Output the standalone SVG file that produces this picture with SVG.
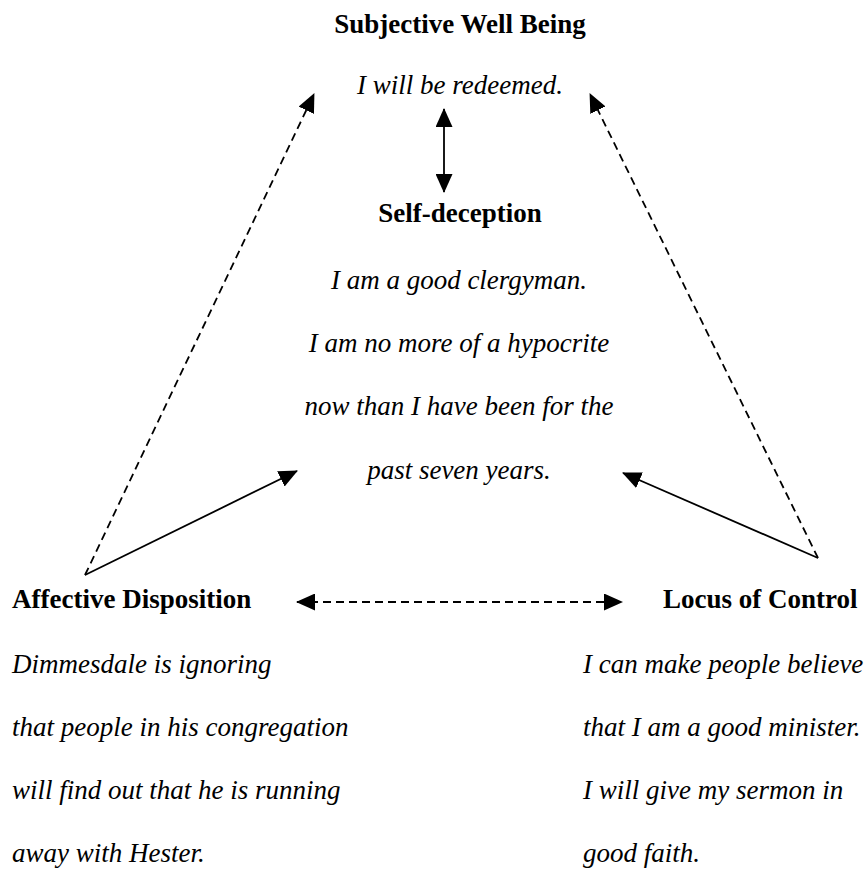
<svg xmlns="http://www.w3.org/2000/svg" width="866" height="873" viewBox="0 0 866 873">
<style>
text{font-family:"Liberation Serif","Times New Roman",serif;font-size:27px;fill:#000}
.b{font-weight:bold}
.i{font-style:italic}
.c{text-anchor:middle}
.ln{stroke:#000;stroke-width:1.8;fill:none}
.d{stroke-dasharray:8 5}
</style>
<defs>
<marker id="ah" viewBox="0 0 19 17" refX="18" refY="8.5" markerWidth="19" markerHeight="17" markerUnits="userSpaceOnUse" orient="auto-start-reverse">
<path d="M0,0 L19,8.5 L0,17 z" fill="#000"/>
</marker>
</defs>
<rect width="866" height="873" fill="#fff"/>
<g id="connectors">
<line class="ln d" x1="85" y1="575" x2="314" y2="94" marker-end="url(#ah)"/>
<line class="ln d" x1="818" y1="558" x2="590" y2="94" marker-end="url(#ah)"/>
<line class="ln" x1="85" y1="575" x2="297" y2="471" marker-end="url(#ah)"/>
<line class="ln" x1="818" y1="558" x2="623" y2="473" marker-end="url(#ah)"/>
<line class="ln" x1="444" y1="109" x2="444" y2="192" marker-start="url(#ah)" marker-end="url(#ah)"/>
<line class="ln d" x1="297" y1="602" x2="622" y2="602" marker-start="url(#ah)" marker-end="url(#ah)"/>
</g>
<g id="subjective-well-being">
<text class="b c" x="460" y="33">Subjective Well Being</text>
<text class="i c" x="460" y="94">I will be redeemed.</text>
</g>
<g id="self-deception">
<text class="b c" x="460" y="222">Self-deception</text>
<text class="i c" x="459" y="289">I am a good clergyman.</text>
<text class="i c" x="459" y="352">I am no more of a hypocrite</text>
<text class="i c" x="459" y="415">now than I have been for the</text>
<text class="i c" x="459" y="479">past seven years.</text>
</g>
<g id="affective-disposition">
<text class="b" x="12" y="608">Affective Disposition</text>
<text class="i" x="12" y="673">Dimmesdale is ignoring</text>
<text class="i" x="12" y="736">that people in his congregation</text>
<text class="i" x="12" y="799">will find out that he is running</text>
<text class="i" x="12" y="862">away with Hester.</text>
</g>
<g id="locus-of-control">
<text class="b" x="663" y="608">Locus of Control</text>
<text class="i" x="583" y="673">I can make people believe</text>
<text class="i" x="583" y="736">that I am a good minister.</text>
<text class="i" x="583" y="799">I will give my sermon in</text>
<text class="i" x="583" y="862">good faith.</text>
</g>
</svg>
